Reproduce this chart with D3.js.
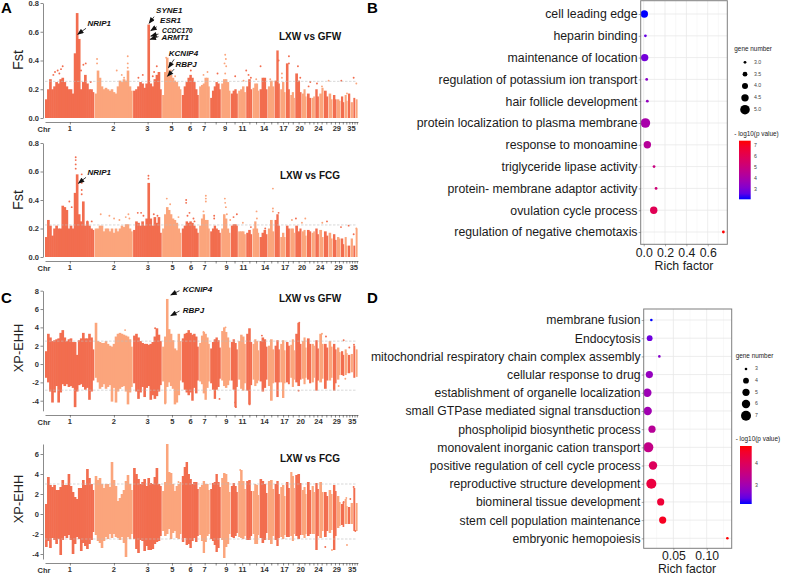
<!DOCTYPE html>
<html><head><meta charset="utf-8">
<script src="https://cdn.jsdelivr.net/npm/d3@7"></script>
<style>html,body{margin:0;background:#fff}svg{display:block}text{font-family:"Liberation Sans",Arial,sans-serif}</style>
</head><body><svg id="c" width="785" height="575"></svg>
<script>
// ---- Manhattan panels: chromosomes
const chrNames=[1,2,3,5,6,7,8,9,10,11,12,13,14,15,16,17,18,19,20,21,22,23,24,25,26,27,28,29,30,31,32,33,34,35];
const chrLengths=[149,115,87,59,52,33,33,29,22,24,19,21,25,20,17,17,13,15,20,15,14,11,12,14,14,13,12,12,11,10,8,8,7,7];
const axisLabels=["1","2","3","5","6","7","9","11","14","17","20","24","29","35"];
const labelPosUpper=[73,203,305,378,433,475,538,590,655,713,762,818,873,917];
const labelPosMiddle=[73,205,307,381,436,477,543,593,658,718,769,823,878,924];
const labelPosLower=[73,205,306,380,435,477,542,590,656,716,765,818,873,919];

// upper envelope per chromosome
const fstGfwTop=[
[.13,.2,.27,.2,.22,.25,.24,.27,.28,.25,.22,.2,.2,.17,.45,.73,.55,.2,.25,.3,.24,.2,.2,.18],
[.17,.33,.28,.22,.2,.21,.2,.19,.2,.18,.17,.22,.26,.25,.27,.26,.33,.22,.19],
[.19,.2,.22,.25,.24,.21,.24,.65,.24,.22,.27,.3,.32,.2],
[.16,.32,.42,.33,.3,.28,.26,.25,.22,.2],[.16,.22,.25,.28,.3,.28,.25,.2,.16],
[.22,.23,.24,.28,.28,.22],[.14,.19,.22,.25,.24,.2],[.24,.27,.27,.25,.19],[.17,.19,.2,.17],[.19,.2,.22,.18],
[.22,.27,.2],[.21,.24,.24,.19],[.2,.28,.28,.2],[.22,.26,.22],[.26,.47,.24],[.2,.25,.18],[.38,.2],[.16,.18,.14],
[.31,.26,.18],[.17,.2,.15],[.17,.14],[.14,.15],[.2,.15],[.17,.21],[.19,.15],[.17,.13],[.16,.13],[.13,.12],[.15,.11],[.16,.12],[.17],[.11],[.14],[.13]];
const fstGfwDots=[[38,.33],[30,.32],[43,.31],[53,.36],[25,.3],[115,.37],[122,.38],[108,.33],[137,.25],[48,.34],[156,.41],[156,.38],[215,.33],[230,.3],[237,.28],[248,.43],[248,.38],[248,.35],[293,.3],[335,.36],[327,.32],[323,.29],[280,.28],[363,.42],[377,.33],[390,.29],[430,.36],[437,.33],[487,.32],[475,.3],[517,.31],[540,.44],[542,.41],[538,.38],[543,.36],[540,.31],[570,.29],[595,.26],[603,.33],[610,.3],[617,.28],[633,.27],[646,.36],[655,.27],[675,.27],[700,.4],[710,.31],[710,.28],[731,.43],[731,.38],[758,.36],[765,.28],[795,.25],[790,.22],[815,.24],[830,.22],[850,.26],[888,.26],[905,.17],[925,.28],[933,.24]];
const fstFcgTop=[
[.14,.26,.22,.15,.2,.22,.2,.2,.36,.35,.33,.2,.22,.2,.45,.58,.3,.25,.39,.22,.25,.22,.2,.19],
[.2,.2,.22,.22,.18,.2,.2,.18,.2,.17,.2,.18,.2,.22,.21,.23,.23,.2,.18],
[.19,.25,.24,.22,.25,.22,.27,.52,.27,.22,.28,.24,.28,.17],
[.2,.3,.35,.33,.3,.27,.26,.24,.2,.17],[.2,.22,.25,.24,.25,.24,.22,.2,.17],
[.22,.27,.3,.26,.26,.2],[.18,.2,.22,.2,.19,.17],[.2,.3,.27,.2,.17],[.22,.23,.23,.22],[.18,.18,.18,.16],
[.17,.19,.16],[.2,.25,.2,.17],[.14,.17,.19,.16],[.2,.26,.18],[.26,.3,.22],[.14,.17,.14],[.22,.2],[.2,.2,.17],
[.22,.18,.2],[.18,.19,.15],[.19,.18],[.17,.18],[.2,.16],[.19,.14],[.18,.15],[.17,.13],[.16,.12],[.14,.13],[.13,.09],[.14,.08],[.08],[.13],[.08],[.2]];
const fstFcgDots=[[92,.7],[92,.68],[92,.65],[92,.62],[110,.58],[110,.52],[110,.47],[110,.44],[73,.39],[80,.35],[127,.25],[140,.25],[167,.3],[193,.29],[207,.27],[223,.26],[242,.28],[250,.3],[253,.27],[310,.57],[310,.55],[278,.31],[288,.31],[295,.29],[326,.3],[337,.29],[365,.41],[375,.37],[400,.28],[423,.4],[423,.38],[433,.31],[427,.29],[445,.27],[448,.25],[482,.43],[482,.41],[482,.39],[475,.32],[507,.29],[507,.27],[539,.41],[540,.38],[542,.35],[545,.3],[555,.26],[575,.3],[565,.28],[593,.24],[617,.21],[634,.32],[635,.27],[660,.2],[683,.48],[683,.34],[683,.32],[700,.31],[740,.26],[752,.27],[780,.27],[770,.24],[831,.24],[845,.25],[887,.21],[910,.22],[925,.16],[933,.2]];

const ehhGfwTop=[
[1.4,3.3,2.9,2.5,2.6,2.7,2.8,3.4,3.7,2.9,2.5,2.7,2.8,2.4,2.4,1,2.6,2.8,3.4,2.8,2.8,3.3,2.9,1.6],
[4.5,2.5,2.4,2.3,2.3,2.5,2.2,2,1.9,2.2,3,3.3,3.4,3.3,3.2,3.1,3,2.7,1.9],
[3.1,3.3,2.9,2.5,2.3,2.2,2.2,2.1,2.2,2.4,3,3.9,3.2,2.5],
[1.9,3,7.1,3.8,3.3,2.6,1.7,1.5,3.3,2.5],[2.8,3.3,3.4,3.7,3.4,3.2,3.3,3,1.9],[2.3,3.1,3.5,3.3,2.9,2.2],[1.7,2.4,2.7,2.9,2.6,1.8],
[3.6,4,3.5,2.9,1.8],[2.4,2.7,2.3,1.6],[2.5,3.2,3,2.2],[3.3,3.9,2.4],[2.2,2.7,2.5,1.5],[2.5,2.9,2.7,1.9],[2,2.7,1.6],[2,2.6,1.6],[2.2,2.6,1.5],[2.4,2],[2.1,2.7,1.5],
[3.3,4.5,2.2],[2.5,2.9,1.8],[2.8,2.2],[2.2,2],[2.6,1.7],[3.3,2.2],[2.2,1.8],[2.5,1.9],[2.2,1.6],[1.8,1.3],[1.4,1],[1.6,1.2],[1],[1.1],[2],[1.6]];
const ehhGfwBottom=[
[-1.5,-2,-3,-4.2,-3.1,-2.4,-4.2,-3.1,-2.2,-2.4,-2.2,-2.5,-2.4,-2.6,-4.7,-3,-2.3,-2.2,-2.5,-2.8,-2.6,-3.9,-3,-1.8],
[-1.5,-2,-2.7,-2.5,-2.2,-2.7,-2.5,-2.3,-4.1,-2.6,-4.2,-3,-2.7,-2.5,-2.4,-3,-4.4,-3.1,-2.5],
[-2.1,-3,-3.8,-3.1,-2.5,-3.6,-2.6,-2.4,-3.9,-3.4,-3.8,-3.5,-3,-2.3],
[-1.9,-4.3,-2.5,-2,-2.4,-2.7,-4.4,-4.2,-3.4,-1.8],[-2,-2.8,-3.1,-3.4,-3.1,-4,-2.6,-3.2,-1.8],[-1.9,-2.2,-3.2,-3.9,-2.6,-1.9],[-2.1,-2.8,-3.8,-2.8,-2.5,-1.6],
[-1.8,-2.4,-2.6,-2.3,-1.8],[-1.8,-2.8,-4.7,-2.5],[-1.7,-2.7,-2.9,-2.1],[-2.9,-4.4,-2.3],[-1.7,-2.4,-2.1,-1.8],[-1.9,-3,-2.6,-1.7],[-2.4,-4,-2.1],[-2,-3.6,-2],[-2,-3.7,-2.1],[-2,-2.2],[-1.5,-2.5,-1.7],
[-2,-2.4,-1.7],[-1.6,-2.2,-1.5],[-1.7,-2.1],[-2,-1.5],[-2.9,-1.8],[-2,-1.6],[-2.7,-1.8],[-1.8,-1.5],[-2.9,-2.1],[-1.7,-1.2],[-1.2,-1.3],[-1.2,-1],[-1],[-.9],[-1.5],[-1.4]];
const ehhGfwDots=[[153,4.1],[153,3.8],[240,3.7],[330,3.9],[475,3.5],[541,4],[650,3.1],[762,4.5],[830,3.3],[842,3],[895,2.6],[912,1.8],[926,2.1],[360,-4.3],[523,-3.8],[570,-4.2],[572,-4.7],[613,-4.4],[760,-2.9],[880,-2.4],[900,-1.6]];
const ehhFcgTop=[
[1,3.7,2.9,2.7,2.9,2.4,2.4,2.7,3.4,2.9,2.9,4,2.8,2.2,1.7,1.5,2.6,2.6,3.4,2.9,4.5,3.6,3,2.4],
[3.8,3.4,3.6,3,2.6,3,3,2.7,5.2,3.4,2.8,1.3,1.6,2,2.4,3.3,3.9,3,2.4],
[4.6,4,3.5,3,3.2,3.5,2.8,3.6,3.1,3,3.7,4.6,3,2.8],
[2.3,3.2,7,4.2,4.1,3,2.3,2.8,3,3.2],[3.8,4.7,5.2,4,3.5,3,3.2,3.2,2.5],[2.7,2.9,3.3,3,3,2.4],[2.5,3.1,3.2,4,3.2,2.7],
[3.6,4.1,4,3.2,2.2],[2.8,3.1,2.8,2.2],[3.3,4.4,3.3,2.5],[3.3,3.4,2.3],[2.3,3,2.9,1.9],[3.5,3.3,3,2.1],[3.3,3.4,2.5],[3,3.3,2],[2.7,2.9,1.8],[3.2,2.6],[4.2,3.8,2.6],
[3.9,4,3.1],[2.4,2.7,2],[3.2,2.4],[2.8,2.2],[3.1,2.5],[3.2,2.2],[2.2,1.8],[2.4,2],[2.9,2.3],[1.8,1.2],[1,1.2],[1.5,.8],[.7],[1.1],[2.6],[1.1]];
const ehhFcgBottom=[
[-3.3,-2.7,-3.4,-2.4,-2.6,-3,-2.5,-4.1,-2.6,-2.2,-2.4,-2.1,-2.6,-4,-3,-2.3,-2.5,-3.7,-2.9,-3.2,-3.5,-3,-2.6,-1.8],
[-2.1,-2.7,-2.9,-3.4,-2.7,-2.3,-2.5,-2,-2.4,-2,-2.3,-2.4,-2.6,-2.3,-2.9,-4.3,-2.3,-2.5,-2],
[-2.5,-3.5,-3.9,-2.6,-2.7,-3.7,-3.2,-3.6,-3.6,-3.5,-3,-2.8,-2.7,-2.2],
[-1.7,-2.2,-2,-1.5,-2.5,-1.9,-1.7,-2.4,-2.5,-2],[-2.8,-2.4,-3.1,-3,-3.4,-2.7,-2.4,-2.8,-2.2],[-2.1,-2.7,-3.9,-2.8,-2.2,-2],[-2.5,-2.7,-3.1,-3.8,-3.4,-2.4],
[-2.6,-4.4,-3.3,-3,-2],[-2.3,-2.4,-2.2,-1.9],[-2.3,-2.4,-2.5,-2.2],[-2.6,-2.6,-2.2],[-2,-3,-3,-2.1],[-2.4,-2.9,-2.6,-1.9],[-2.6,-3,-2.2],[-2.6,-3.2,-2.4],[-2.3,-2.5,-2.1],[-2.3,-2.3],[-2.2,-2.7,-2],
[-2.2,-2.5,-2.1],[-2.1,-2.4,-2],[-2.2,-2],[-2,-2],[-3.6,-2.2],[-2.4,-1.7],[-2.3,-1.7],[-1.9,-1.6],[-3.6,-2.2],[-1.4,-1.2],[-1.1,-1.3],[-1,-1],[-1],[-1],[-1.7],[-1.7]];
const ehhFcgDots=[[905,-3.1],[925,2.7],[903,1.6],[895,1.2],[915,1.5],[930,-1.7],[840,-3.3],[860,-3.6],[400,3.2],[585,4.4],[760,3.1]];

// thresholds
const thrA1=[.255], thrA2=[.225], thrC1=[2.5,-2.85], thrC2=[3,-2.5];

// gene callouts: label, text x, text y, arrow tail x,y, arrow tip x,y (genome / value units)
const genesA1=[["NRIP1",127,.652,123,.624,98,.582,8],["SYNE1",333,.744,327,.705,312,.659,8],["ESR1",345,.675,335,.635,317,.607,8],["CCDC170",351,.607,340,.584,317,.57,6.7],["ARMT1",349,.554,340,.566,315,.547,8],["KCNIP4",371,.443,387,.408,370,.35,8],["RBPJ",391,.367,387,.34,367,.29,8]];
const genesA2=[["NRIP1",127,.587,123,.559,100,.517,8]];
const genesC1=[["KCNIP4",413,8.04,403,8,377,7.53,8],["RBPJ",413,5.85,403,5.78,377,5.27,8]];

// ---- Enrichment panels
const termsB=["cell leading edge","heparin binding","maintenance of location","regulation of potassium ion transport","hair follicle development","protein localization to plasma membrane","response to monoamine","triglyceride lipase activity","protein- membrane adaptor activity","ovulation cycle process","regulation of negative chemotaxis"];
const richB=[.006,.016,.009,.028,.034,.016,.034,.097,.116,.094,.747];
const genesB=[4.5,3,4.5,3,3,5,4.5,3,3,4.5,3];
const pvalB=[2.1,2.7,2.9,3.3,3.5,4.0,4.4,5,5.2,6,7.45];
const sizeTicksB=["3.0","3.5","4.0","4.5","5.0"];
const colorTicksB=[7,6,5,4,3];
const termsD=["membrane fusion","Endocytosis","mitochondrial respiratory chain complex assembly","cellular response to drug","establishment of organelle localization","small GTPase mediated signal transduction","phospholipid biosynthetic process","monovalent inorganic cation transport","positive regulation of cell cycle process","reproductive structure development","biomineral tissue development","stem cell population maintenance","embryonic hemopoiesis"];
const richD=[.017,.0145,.029,.014,.011,.0115,.018,.0125,.0195,.017,.031,.034,.131];
const genesD=[3,4,3,5,6,6,5,7,6,7,5,5,3];
const pvalD=[2.15,2.5,2.7,2.85,2.95,3,3.3,3.5,4,4.3,4.4,4.6,4.79];
const sizeTicksD=["3","4","5","6","7"];
const colorTicksD=[4,3];

const DARK="#f26d4f", LIGHT="#fba57c", AX="#3c3c3c";
const svg=d3.select("#c");
const defs=svg.append("defs");
defs.append("marker").attr("id","ah").attr("viewBox","0 0 10 8").attr("refX",9).attr("refY",4).attr("markerWidth",7.5).attr("markerHeight",5.2).attr("markerUnits","userSpaceOnUse").attr("orient","auto")
  .append("path").attr("d","M0,0L10,4L0,8z").attr("fill","#111");
defs.append("filter").attr("id","soft").attr("x",0).attr("y",0).attr("width",1).attr("height",1).append("feGaussianBlur").attr("stdDeviation",.25);

const chrStarts=[0,...d3.cumsum(chrLengths)];
const total=chrStarts[chrStarts.length-1];
const X=d3.scaleLinear().domain([0,total]).range([45,358]);
const chrCentres=chrLengths.map((l,i)=>chrStarts[i]+l/2);

function manhattan(o){
  const y=d3.scaleLinear().domain(o.domain).range(o.range);
  const g=svg.append("g");
  const marks=g.append("g").attr("filter","url(#soft)");
  const bars=[];
  o.top.forEach((vals,c)=>{
    const L=chrLengths[c]-1.2, w=L/vals.length;
    vals.forEach((v,i)=>bars.push({c,x0:chrStarts[c]+i*w,x1:chrStarts[c]+(i+1)*w,hi:v,lo:o.bottom?o.bottom[c][i]:0,last:i===vals.length-1}));
  });
  marks.selectAll("rect").data(bars).join("rect")
    .attr("x",d=>X(d.x0)).attr("width",d=>X(d.x1)-X(d.x0)+(d.last?0:.6))
    .attr("y",d=>y(d.hi)).attr("height",d=>y(d.lo)-y(d.hi))
    .attr("fill",d=>d.c%2?LIGHT:DARK);
  marks.selectAll("circle").data(o.dots).join("circle")
    .attr("cx",d=>X(d[0])).attr("cy",d=>y(d[1])).attr("r",.95)
    .attr("fill",d=>(d3.bisectRight(chrStarts,d[0])-1)%2?LIGHT:DARK);
  g.selectAll(".thr").data(o.thr).join("line").attr("class","thr")
    .attr("x1",X(0)).attr("x2",X(total)-1).attr("y1",d=>y(d)).attr("y2",d=>y(d))
    .attr("stroke","#bdbdbd").attr("stroke-width",.6).attr("stroke-dasharray","2.5,1.5");
  // axes
  const ya=g.append("g").attr("transform","translate(43,0)").call(d3.axisLeft(y).tickValues(o.ticks).tickSize(2.5).tickSizeOuter(0).tickPadding(1.5).tickFormat(o.fmt));
  ya.selectAll("text").attr("font-size",7.5).attr("font-weight","bold").attr("fill","#333");
  ya.selectAll("line,path").attr("stroke",AX).attr("stroke-width",.6);
  const xa=g.append("g").attr("transform",`translate(0,${o.axisY})`).call(d3.axisBottom(X).tickValues(chrCentres).tickSize(2.5).tickSizeOuter(0).tickFormat(""));
  xa.selectAll("line,path").attr("stroke",AX).attr("stroke-width",.6);
  const xl=g.append("g").attr("transform",`translate(0,${o.axisY})`).call(d3.axisBottom(X).tickValues(o.labelPos).tickSize(0).tickPadding(3.5).tickFormat((d,i)=>axisLabels[i]));
  xl.select("path").remove();
  xl.selectAll("text").attr("font-size",7.5).attr("font-weight","bold").attr("fill","#333");
  g.append("text").attr("x",44).attr("y",o.axisY+9.5).attr("text-anchor","middle").attr("font-size",7.5).attr("font-weight","bold").attr("fill","#333").text("Chr");
  // titles
  g.append("text").attr("transform",`translate(${o.ylab[0]},${o.ylab[1]}) rotate(-90)`).attr("text-anchor","middle").attr("font-size",o.ylab[3]).attr("fill","#222").text(o.ylab[2]);
  g.append("text").attr("x",310).attr("y",o.titleY).attr("text-anchor","middle").attr("dominant-baseline","middle").attr("font-size",10).attr("font-weight","bold").attr("fill","#111").text(o.title);
  // callouts
  const gg=g.selectAll(".gene").data(o.genes).join("g").attr("class","gene");
  gg.append("line").attr("x1",d=>X(d[3])).attr("y1",d=>y(d[4])).attr("x2",d=>X(d[5])).attr("y2",d=>y(d[6])).attr("stroke","#111").attr("stroke-width",.8).attr("marker-end","url(#ah)");
  gg.append("text").attr("x",d=>X(d[1])).attr("y",d=>y(d[2])).attr("dominant-baseline","middle").attr("font-size",d=>d[7]).attr("font-weight","bold").attr("font-style","italic").attr("fill","#111").text(d=>d[0]);
}
const f1=d3.format(".1f"), fi=d=>String(d);
manhattan({top:fstGfwTop,dots:fstGfwDots,thr:thrA1,domain:[0,.8],range:[118,3],ticks:[0,.2,.4,.6,.8],fmt:f1,axisY:122,labelPos:labelPosUpper,ylab:[23,60,"Fst",14.4],title:"LXW vs GFW",titleY:37,genes:genesA1});
manhattan({top:fstFcgTop,dots:fstFcgDots,thr:thrA2,domain:[0,.8],range:[257,143],ticks:[0,.2,.4,.6,.8],fmt:f1,axisY:261,labelPos:labelPosMiddle,ylab:[23,200,"Fst",14.4],title:"LXW vs FCG",titleY:176,genes:genesA2});
manhattan({top:ehhGfwTop,bottom:ehhGfwBottom,dots:ehhGfwDots,thr:thrC1,domain:[-5.1,8],range:[410.8,290.7],ticks:[-4,-2,0,2,4,6,8],fmt:fi,axisY:415,labelPos:labelPosLower,ylab:[23,348,"XP-EHH",12.8],title:"LXW vs GFW",titleY:299,genes:genesC1});
manhattan({top:ehhFcgTop,bottom:ehhFcgBottom,dots:ehhFcgDots,thr:thrC2,domain:[-4.5,7],range:[559,444],ticks:[-4,-2,0,2,4,6],fmt:fi,axisY:563,labelPos:labelPosLower,ylab:[23,499,"XP-EHH",12.8],title:"LXW vs FCG",titleY:459,genes:[]});

function dotplot(o){
  const g=svg.append("g");
  const x=d3.scaleLinear().domain(o.xDomain).range(o.xRange);
  const y=d3.scalePoint().domain(o.terms).range(o.yRange);
  const r=d3.scaleLinear().domain(o.sizeDomain).range(o.sizeRange);
  const col=d3.scaleLinear().domain(o.colDomain).range(["#0000ff","#ff0000"]).interpolate(d3.interpolateLab);
  const [L,T,R,B]=o.box;
  g.append("rect").attr("x",L).attr("y",T).attr("width",R-L).attr("height",B-T).attr("fill","#fff");
  g.selectAll(".minor").data(o.minor).join("line").attr("x1",d=>x(d)).attr("x2",d=>x(d)).attr("y1",T).attr("y2",B).attr("stroke","#f0f0f0").attr("stroke-width",.5);
  g.selectAll(".major").data(o.major).join("line").attr("x1",d=>x(d)).attr("x2",d=>x(d)).attr("y1",T).attr("y2",B).attr("stroke","#e8e8e8").attr("stroke-width",.8);
  g.selectAll(".hg").data(o.terms).join("line").attr("x1",L).attr("x2",R).attr("y1",d=>y(d)).attr("y2",d=>y(d)).attr("stroke","#e8e8e8").attr("stroke-width",.8);
  g.selectAll("circle.pt").data(o.terms).join("circle").attr("class","pt")
    .attr("cx",(d,i)=>x(o.rich[i])).attr("cy",d=>y(d)).attr("r",(d,i)=>r(o.genes[i])).attr("fill",(d,i)=>col(o.pval[i]));
  g.append("rect").attr("x",L).attr("y",T).attr("width",R-L).attr("height",B-T).attr("fill","none").attr("stroke","#7f7f7f").attr("stroke-width",1);
  const ya=g.append("g").attr("transform",`translate(${L},0)`).call(d3.axisLeft(y).tickSize(2).tickPadding(1.2));
  ya.select("path").remove(); ya.selectAll("line").attr("stroke","#555").attr("stroke-width",.5);
  ya.selectAll("text").attr("font-size",o.font).attr("fill","#1a1a1a");
  const xa=g.append("g").attr("transform",`translate(0,${B})`).call(d3.axisBottom(x).tickValues(o.major).tickSize(2).tickPadding(1.5).tickFormat(o.tickFmt));
  xa.select("path").remove(); xa.selectAll("line").attr("stroke","#555").attr("stroke-width",.5);
  xa.selectAll("text").attr("font-size",o.font).attr("fill","#1a1a1a");
  g.append("text").attr("x",o.xTitle[0]).attr("y",o.xTitle[1]).attr("text-anchor","middle").attr("dominant-baseline","middle").attr("font-size",o.font).attr("fill","#1a1a1a").text("Rich factor");
  // size legend
  const sl=o.leg;
  g.append("text").attr("x",sl.x).attr("y",sl.sizeTitleY).attr("dominant-baseline","middle").attr("font-size",6.4).attr("fill","#222").text("gene number");
  const ly=d3.scalePoint().domain(o.sizeTicks).range(sl.sizeY);
  g.selectAll(".ld").data(o.sizeTicks).join("circle").attr("class","ld").attr("cx",sl.dotX).attr("cy",d=>ly(d)).attr("r",d=>r(+d)).attr("fill","#000");
  g.selectAll(".lt").data(o.sizeTicks).join("text").attr("class","lt").attr("x",sl.labX).attr("y",d=>ly(d)).attr("dominant-baseline","middle").attr("font-size",5.2).attr("fill","#444").text(d=>d);
  // colour legend
  g.append("text").attr("x",sl.x).attr("y",sl.colTitleY).attr("dominant-baseline","middle").attr("font-size",6.4).attr("fill","#222").text("- log10(p value)");
  const cy=d3.scaleLinear().domain(o.colDomain).range(sl.barY);
  const gid="grad"+o.id, lg=defs.append("linearGradient").attr("id",gid).attr("x1",0).attr("x2",0).attr("y1",1).attr("y2",0);
  d3.range(0,1.001,.1).forEach(t=>lg.append("stop").attr("offset",t).attr("stop-color",col(o.colDomain[0]+t*(o.colDomain[1]-o.colDomain[0]))));
  g.append("rect").attr("x",sl.barX).attr("y",sl.barY[1]).attr("width",sl.barW).attr("height",sl.barY[0]-sl.barY[1]).attr("fill",`url(#${gid})`);
  g.selectAll(".ct").data(o.colorTicks).join("text").attr("class","ct").attr("x",sl.labX).attr("y",d=>cy(d)).attr("dominant-baseline","middle").attr("font-size",5.2).attr("fill","#444").text(d=>d);
}
dotplot({id:"B",terms:termsB,rich:richB,genes:genesB,pval:pvalB,xDomain:[0,.6],xRange:[643.7,707.7],yRange:[14,232],box:[640.7,.7,727.3,244.3],
  major:[0,.2,.4,.6],minor:[.1,.3,.5,.7],tickFmt:d3.format(".1f"),font:12.3,xTitle:[684,266.5],sizeDomain:[3,3.5,4,4.5,5],sizeRange:[1.4,2.4,3,3.7,4.8],colDomain:[2.1,7.45],
  sizeTicks:sizeTicksB,colorTicks:colorTicksB,leg:{x:734.3,sizeTitleY:49,sizeY:[62.3,109.7],dotX:745,labX:754,colTitleY:134,barX:739,barW:11.7,barY:[199.3,140.7]}});
dotplot({id:"D",terms:termsD,rich:richD,genes:genesD,pval:pvalD,xDomain:[0,.1],xRange:[640,706.7],yRange:[320,538.3],box:[643.7,309,731.7,548.3],
  major:[.05,.1],minor:[.025,.075,.125],tickFmt:d3.format(".2f"),font:12.2,xTitle:[687,570],sizeDomain:[3,4,5,6,7],sizeRange:[1.3,2.9,3.6,4.2,5],colDomain:[2.15,4.79],
  sizeTicks:sizeTicksD,colorTicks:colorTicksD,leg:{x:735.7,sizeTitleY:356.7,sizeY:[369,415.7],dotX:746,labX:755,colTitleY:439.3,barX:740,barW:11.7,barY:[504,446]}});

// panel letters
const panelLetters=[["A",1,13],["B",367,13],["C",1,303],["D",367,303]];
svg.selectAll(".pl").data(panelLetters).join("text").attr("class","pl").attr("x",d=>d[1]).attr("y",d=>d[2]).attr("font-size",15).attr("font-weight","bold").attr("fill","#000").text(d=>d[0]);
</script></body></html>
